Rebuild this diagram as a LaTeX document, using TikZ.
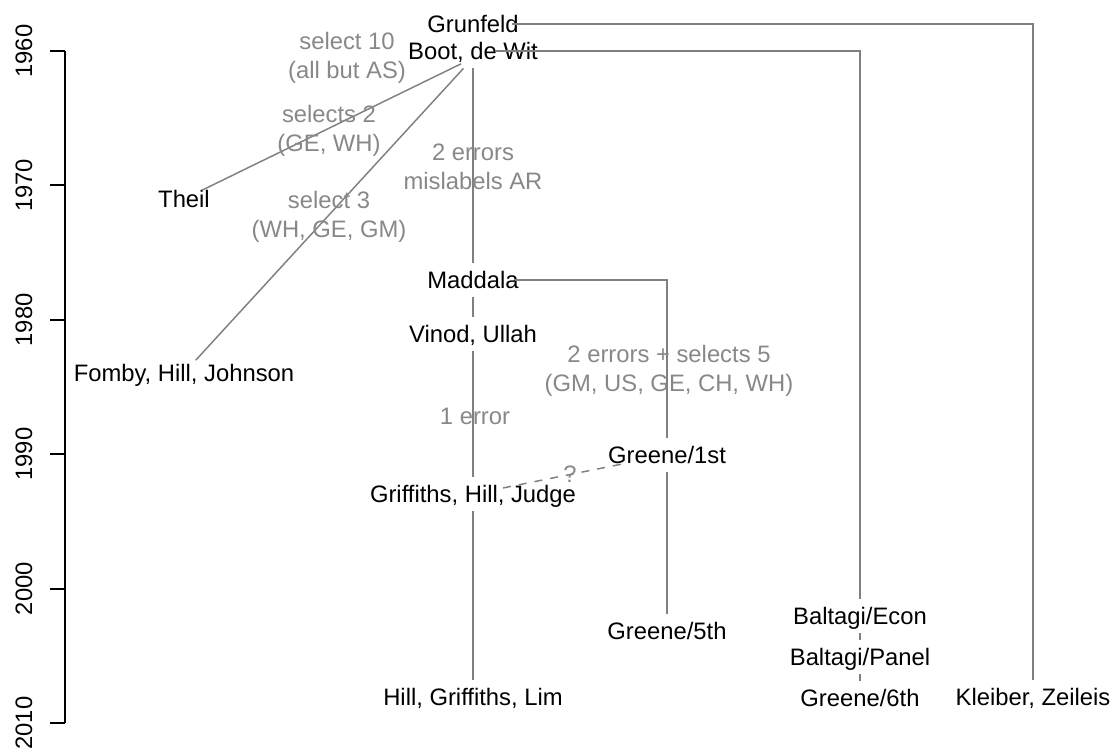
\documentclass[tikz,border=0pt]{standalone}
\usepackage{fontspec}
\setmainfont{Liberation Sans}
\usetikzlibrary{calc}
\definecolor{linegray}{RGB}{128,128,128}
\definecolor{notegray}{RGB}{136,136,136}
\tikzset{every picture/.style={line width=0.75pt}}
\tikzset{
  book/.style={inner sep=0pt, text height=13pt, text depth=0pt, font=\fontsize{17.85}{21.7}\selectfont},
  note/.style={inner sep=0pt, text depth=0pt, align=center, text=notegray, font=\fontsize{17.85}{21.7}\selectfont},
  link/.style={draw=linegray, line width=1.1pt},
  stem/.style={link, shorten <=6pt, shorten >=6pt},
  guess/.style={link, dash pattern=on 6pt off 6pt},
}
\begin{document}
\begin{tikzpicture}[x=0.75pt,y=0.75pt,yscale=-1,xscale=1]
\useasboundingbox (0,0) rectangle (1113,748);

%Axis
\draw[line width=1.5pt] (65,51) -- (65,723);
\foreach \yr [count=\i from 0] in {1960,1970,...,2010}{
  \draw[line width=1.5pt] (50,{51+134.4*\i}) -- (65,{51+134.4*\i});
  \node[book, rotate=90] (tick\yr) at (23.5,{51+134.4*\i}) {\yr};
}

%Books
\node[book] (grunfeld) at (473,24) {Grunfeld};
\node[book] (boot) at (473,51) {Boot, de Wit};
\node[book] (theil) at (184,199) {Theil};
\node[book] (maddala) at (473,280) {Maddala};
\node[book] (vinod) at (473,334) {Vinod, Ullah};
\node[book] (fomby) at (184,373) {Fomby, Hill, Johnson};
\node[book] (greene1) at (667,455) {Greene/1st};
\node[book] (ghj) at (473,494) {Griffiths, Hill, Judge};
\node[book] (econ) at (860,616) {Baltagi/Econ};
\node[book] (greene5) at (667,631) {Greene/5th};
\node[book] (panel) at (860,657) {Baltagi/Panel};
\node[book] (greene6) at (860,698) {Greene/6th};
\node[book] (hgl) at (473,697) {Hill, Griffiths, Lim};
\node[book] (kz) at (1033,697) {Kleiber, Zeileis};

%Branches
\draw[link, shorten >=6pt] ($(grunfeld.center)+(39,0)$) -| (kz.north);
\draw[link, shorten >=6pt] ($(boot.center)+(22,0)$) -| (econ.north);
\draw[link, shorten >=6pt] ($(maddala.center)+(42,0)$) -| (greene1.north);

%Stems
\draw[stem] (boot.south) -- (maddala.north);
\draw[stem] (maddala.south) -- (vinod.north);
\draw[stem] (vinod.south) -- (ghj.north);
\draw[stem] (ghj.south) -- (hgl.north);
\draw[stem] (greene1.south) -- (greene5.north);
\draw[stem] (econ.south) -- (panel.north);
\draw[stem] (panel.south) -- (greene6.north);

%Fan from Boot, de Wit
\coordinate (fan) at ($(boot.center)+(0,7)$);
\draw[link, shorten <=10pt, shorten >=15pt] (fan) -- (theil.center);
\draw[link, shorten <=10.5pt, shorten >=13pt] (fan) -- (fomby.center);

%Uncertain link
\draw[guess, shorten <=23pt, shorten >=33pt] (ghj.center) -- node[note] (qmark) {?} (greene1.center);

%Notes
\node[note] (sel10) at (347,55.5) {select 10\\(all but AS)};
\node[note] (sel2) at (329,128) {selects 2\\(GE, WH)};
\node[note] (err2) at (473,166.5) {2 errors\\mislabels AR};
\node[note] (sel3) at (329,214) {select 3\\(WH, GE, GM)};
\node[note] (sel5) at (669,368) {2 errors + selects 5\\(GM, US, GE, CH, WH)};
\node[note] (err1) at (475,416) {1 error};

\end{tikzpicture}
\end{document}
